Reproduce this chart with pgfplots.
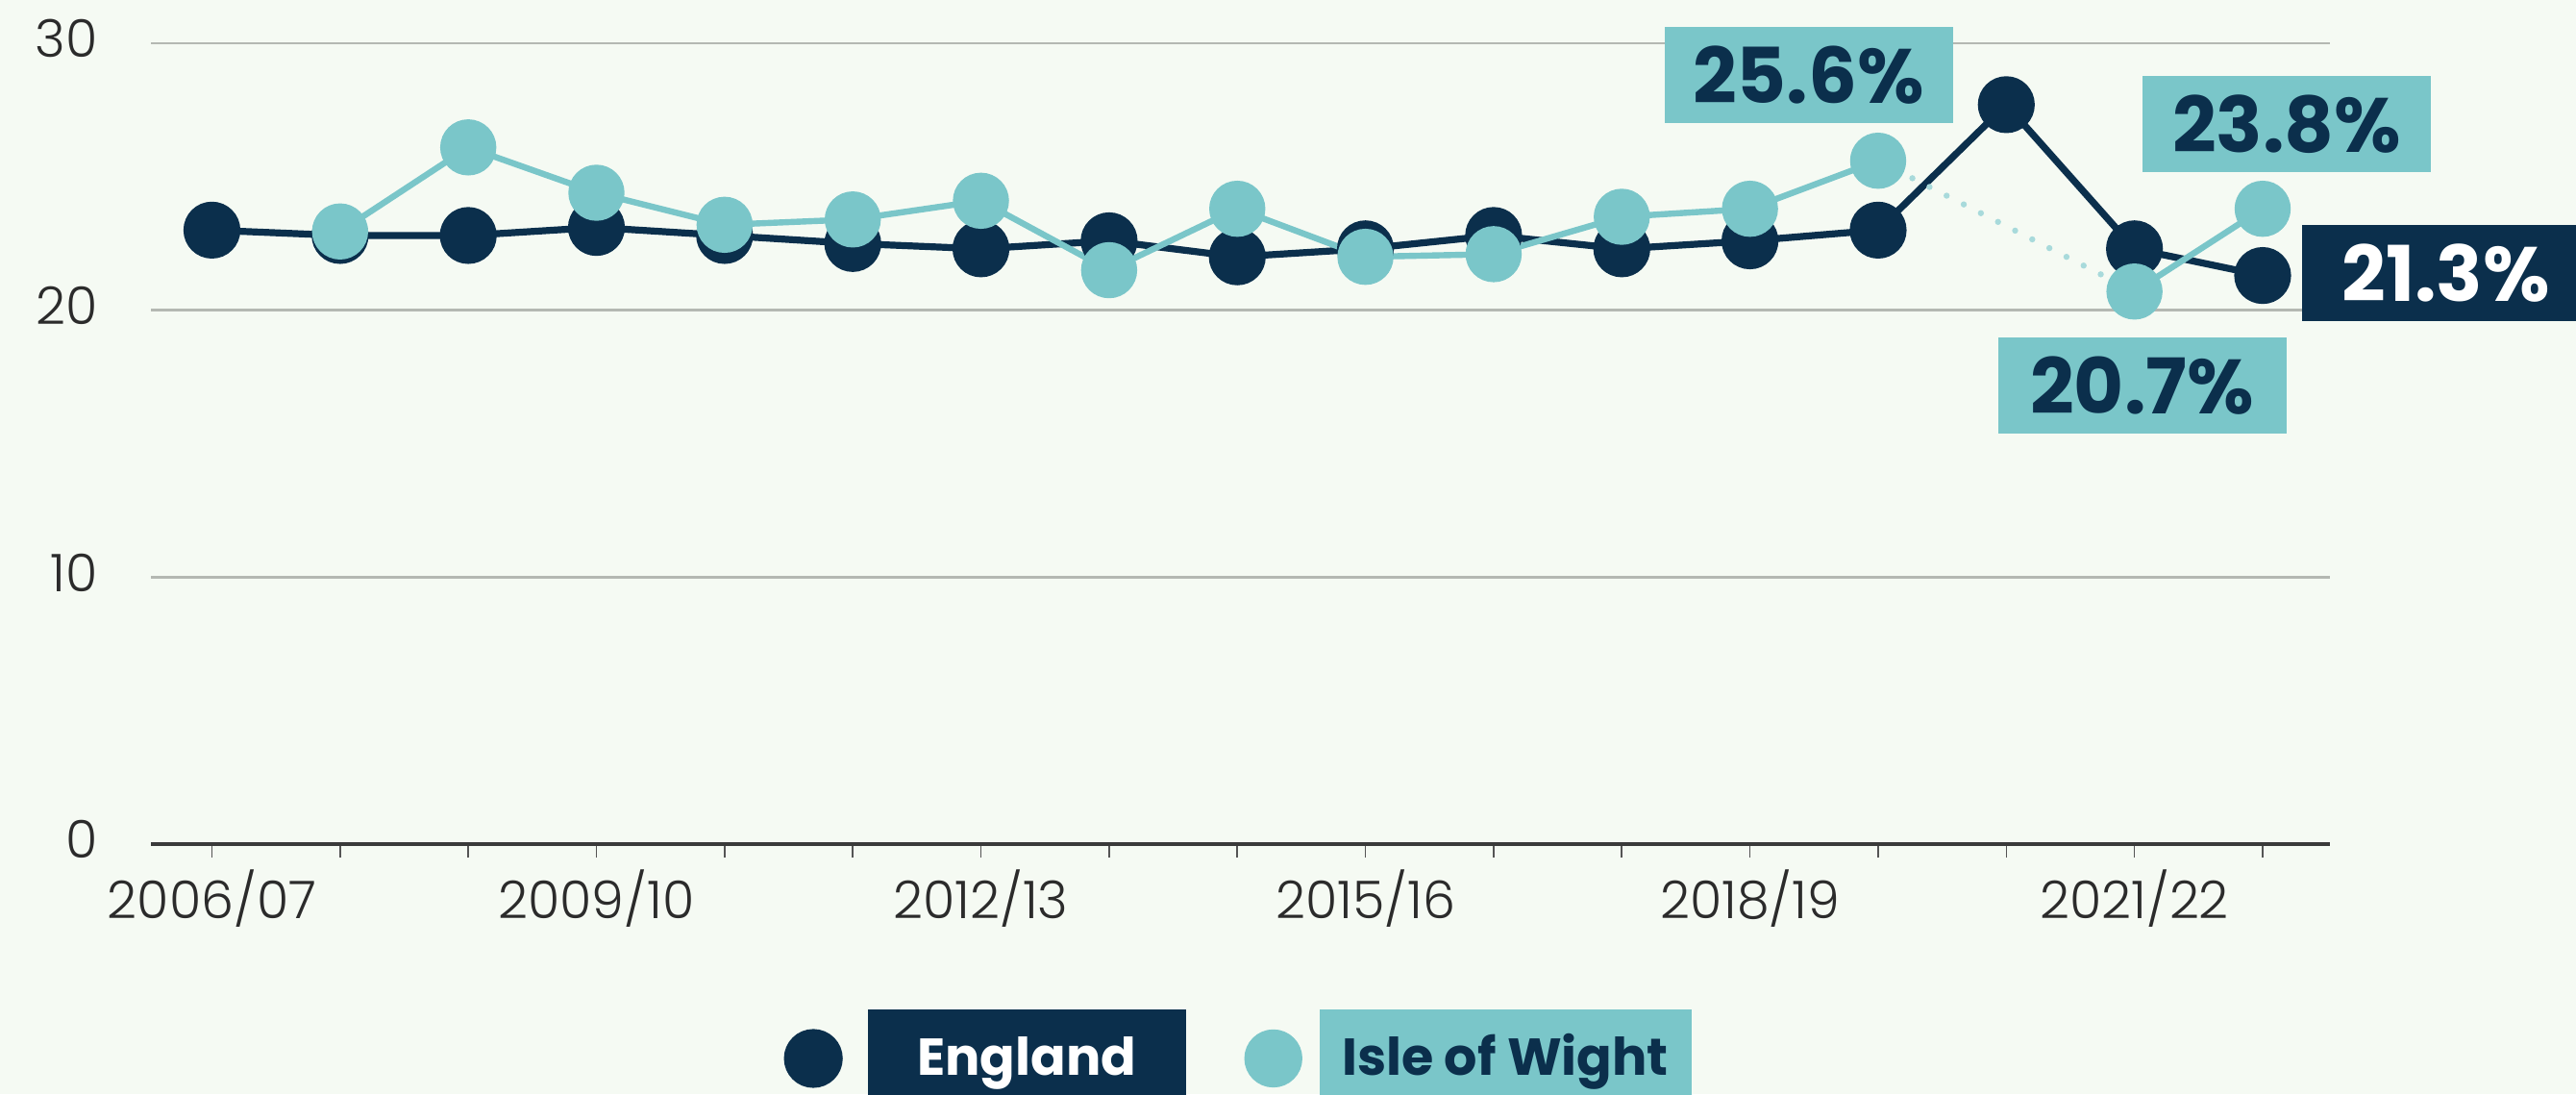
\documentclass[border=0pt]{standalone}
\usepackage{pgfplots}
\pgfplotsset{compat=1.18}
\usepackage{fontspec}
\setmainfont{Poppins}
\newfontfamily\poplight{Poppins Light}
\definecolor{navy}{HTML}{0B2F4C}
\definecolor{iowteal}{HTML}{7AC6C9}
\definecolor{bg}{HTML}{F5FAF3}
\definecolor{gridc}{HTML}{B4B8B2}
\definecolor{dotc}{HTML}{A8DADB}
\definecolor{axisc}{HTML}{3A3A3A}
\definecolor{tickc}{HTML}{555555}
\definecolor{labc}{HTML}{2B2B2B}
\setlength{\fboxsep}{0pt}
\begin{document}
\begin{tikzpicture}
\fill[bg] (0,0) rectangle (670pt,284.5pt);
\useasboundingbox (0,0) rectangle (670pt,284.5pt);
\begin{axis}[
  at={(39.25pt,65pt)}, anchor=south west,
  scale only axis, width=566.75pt, height=208.25pt,
  xmin=-0.476, xmax=16.525, ymin=0, ymax=30,
  clip=false,
  axis x line*=bottom, axis y line*=left,
  y axis line style={draw=none},
  x axis line style={draw=axisc, line width=0.8pt, -},
  xtick={0,...,16},
  xticklabels={2006/07,,,2009/10,,,2012/13,,,2015/16,,,2018/19,,,2021/22,},
  ytick={0,10,20,30},
  ymajorgrids, grid style={gridc, line width=0.6pt},
  xtick style={draw=tickc, line width=0.4pt},
  ytick style={draw=none},
  tick align=outside, major tick length=3.5pt,
  tick label style={font=\poplight\fontsize{13.5}{16}\selectfont, text=labc},
  /pgf/number format/assume math mode=true,
  yticklabel style={inner sep=0pt, xshift=-10.2pt, yshift=1.2pt},
  xticklabel style={inner sep=0pt, yshift=-3pt},
  unbounded coords=jump,
  legend columns=2,
  legend style={at={(0.2905,-0.2555)}, anchor=west, draw=none, fill=none,
    inner sep=0pt, outer sep=0pt,
    /tikz/every odd column/.append style={column sep=6.5pt},
    /tikz/every even column/.append style={column sep=15.2pt},
    nodes={inner sep=0pt, font=\bfseries\fontsize{13.5}{16}\selectfont}},
  legend image code/.code={\fill[#1] (0pt,-3.4pt) circle (6.75pt);},
]
\addplot[navy, line width=1.8pt, mark=*, mark size=6.5pt, mark options={solid}] coordinates {
(0,23.0) (1,22.8) (2,22.8) (3,23.1) (4,22.8) (5,22.5) (6,22.3) (7,22.6) (8,22.0)
(9,22.3) (10,22.8) (11,22.3) (12,22.6) (13,23.0) (14,27.7) (15,22.3) (16,21.3)};
\addlegendentry{\colorbox{navy}{\makebox[82.75pt]{\rule[-7.85pt]{0pt}{25pt}\textcolor{white}{England}}}}
\addplot[dotc, line width=1.6pt, line cap=round, dash pattern=on 0pt off 5pt, forget plot] coordinates {
(13,25.6) (15,20.7)};
\addplot[iowteal, line width=1.6pt, mark=*, mark size=6.5pt, mark options={solid}] coordinates {
(1,22.95) (2,26.1) (3,24.4) (4,23.2) (5,23.4) (6,24.1) (7,21.5) (8,23.8) (9,22.0)
(10,22.1) (11,23.5) (12,23.8) (13,25.6) (14,nan) (15,20.7) (16,23.8)};
\addlegendentry{\hspace*{-2.1pt}\colorbox{iowteal}{\makebox[96.75pt]{\rule[-7.85pt]{0pt}{25pt}\textcolor{navy}{Isle of Wight}}}}
\tikzset{lbl/.style={minimum width=75pt, minimum height=25pt, inner sep=0pt, font=\bfseries\fontsize{20}{24}\selectfont}}
\node[lbl, fill=iowteal, text=navy] at (axis cs:12.457,28.8) {25.6\%};
\node[lbl, fill=iowteal, text=navy] at (axis cs:16.19,26.96) {23.8\%};
\node[lbl, fill=iowteal, text=navy] at (axis cs:15.06,17.17) {20.7\%};
\node[lbl, fill=navy, text=white, anchor=west] at (axis cs:16.30,21.38) {21.3\%};
\end{axis}
\end{tikzpicture}
\end{document}
